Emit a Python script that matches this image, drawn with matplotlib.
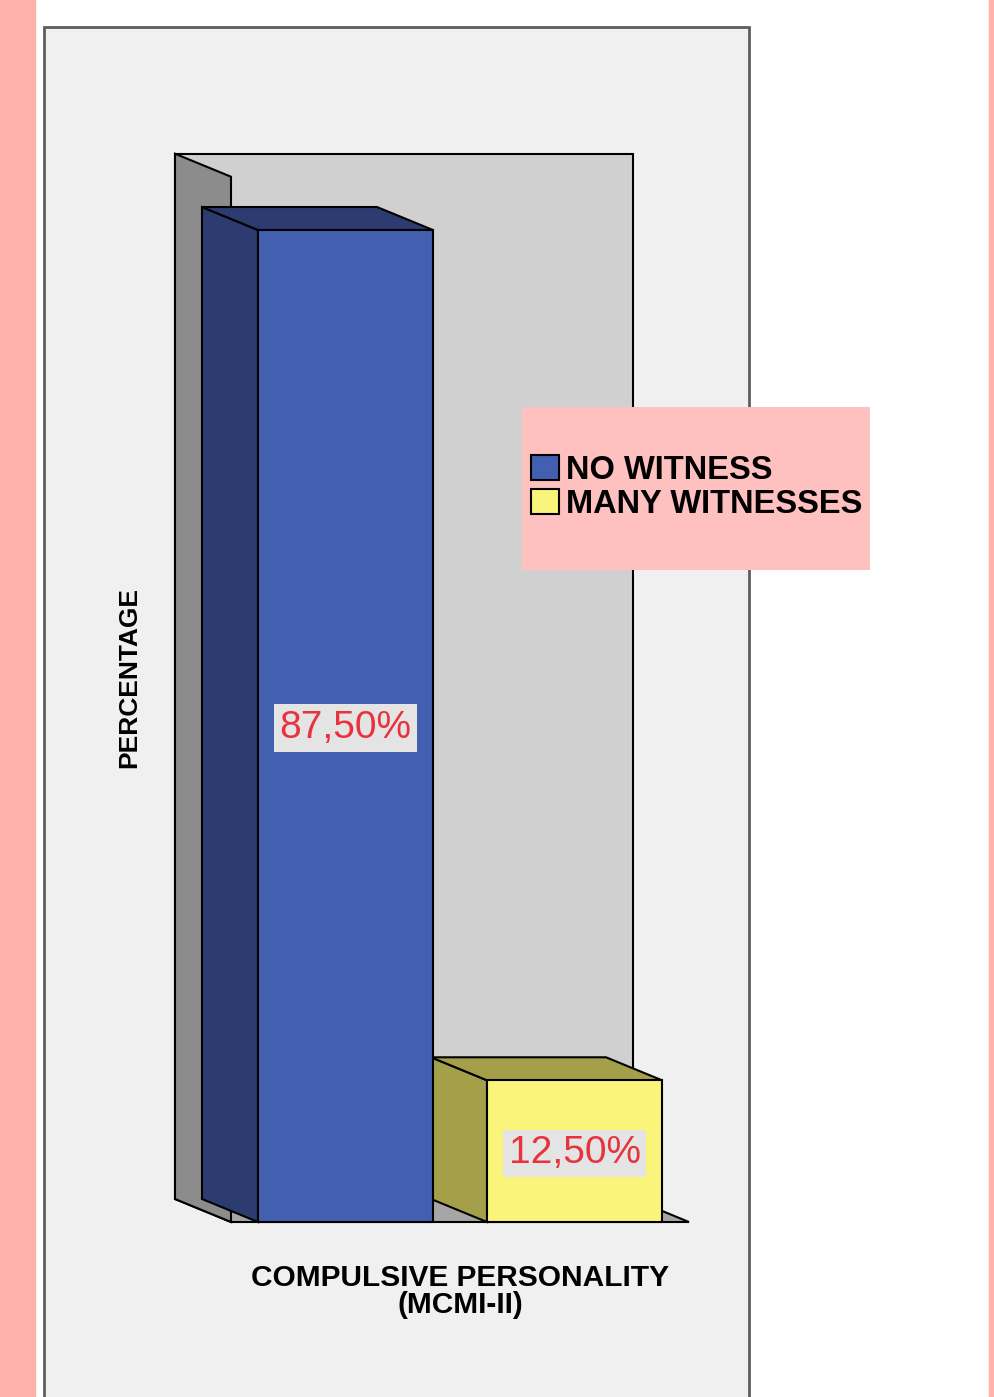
"""
3D-style bar chart: Compulsive personality (MCMI-II) by witness group
"""
import matplotlib
matplotlib.use('Agg')
import matplotlib.pyplot as plt
from matplotlib.patches import Rectangle, Polygon, Patch

W, H = 995, 1397

groups = ['NO WITNESS', 'MANY WITNESSES']
values = [87.5, 12.5]
x_title = 'COMPULSIVE PERSONALITY'
x_subtitle = '(MCMI-II)'
y_title = 'PERCENTAGE'

C = {
    'pink': '#FFB2AA', 'frame': '#F0F0F0', 'frame_edge': '#5E5E5E',
    'wall': '#D0D0D0', 'side_wall': '#8C8C8C', 'floor': '#A6A6A6',
    'legend_bg': '#FFC0C0', 'label': '#E8333C', 'label_bg': '#E4E4E4',
}
front_colors = ['#435FB0', '#FAF57A']
shade_colors = ['#2C3C70', '#A4A04A']

plt.rcParams['font.family'] = ['Liberation Sans', 'DejaVu Sans']

# geometry: 1 category unit = 229 px, 1 percent = 11.337 px
px_x, px_y = 229.0, 11.337
x_front0, y_floor = 345.5, 1222.0
bar_w = 175 / px_x
ddx, ddy = -56 / px_x, 23 / px_y
wall_h = 92.2


def fx(x):
    return x / W


def fy(y):
    return 1 - y / H


fig = plt.figure(figsize=(W / 100, H / 100), dpi=100)
fig.patch.set_facecolor('white')
ax = fig.add_axes([0, 0, 1, 1])
ax.set_xlim(-x_front0 / px_x, (W - x_front0) / px_x)
ax.set_ylim(-(H - y_floor) / px_y, y_floor / px_y)
ax.axis('off')

# page decoration
ax.add_patch(Rectangle((0, 0), fx(35), 1, transform=fig.transFigure, color=C['pink'], zorder=0))
ax.add_patch(Rectangle((fx(989), 0), 1, 1, transform=fig.transFigure, color=C['pink'], zorder=0))
ax.add_patch(Rectangle((fx(44), -0.01), fx(749) - fx(44), fy(27) + 0.01, transform=fig.transFigure,
                       facecolor=C['frame'], edgecolor=C['frame_edge'], lw=2, zorder=0.5))

# walls and floor
n = len(values)
xl, xr = -0.5, n - 0.5
ax.add_patch(Rectangle((xl + ddx, ddy), xr - xl, wall_h, facecolor=C['wall'], edgecolor='black', lw=1.5, zorder=1))
ax.add_patch(Polygon([(xl, 0), (xr, 0), (xr + ddx, ddy), (xl + ddx, ddy)],
                     facecolor=C['floor'], edgecolor='black', lw=1.5, zorder=1.1))
ax.add_patch(Polygon([(xl, 0), (xl, wall_h), (xl + ddx, wall_h + ddy), (xl + ddx, ddy)],
                     facecolor=C['side_wall'], edgecolor='black', lw=1.5, zorder=1.2))

# bars, drawn right to left so the front faces sit on top
for i in reversed(range(n)):
    v = values[i]
    x0, x1 = i - bar_w / 2, i + bar_w / 2
    z = 2 + (n - i)
    ax.add_patch(Polygon([(x0, 0), (x0, v), (x0 + ddx, v + ddy), (x0 + ddx, ddy)],
                         facecolor=shade_colors[i], edgecolor='black', lw=1.5, zorder=z))
    ax.add_patch(Polygon([(x0, v), (x1, v), (x1 + ddx, v + ddy), (x0 + ddx, v + ddy)],
                         facecolor=shade_colors[i], edgecolor='black', lw=1.5, zorder=z))
    ax.add_patch(Rectangle((x0, 0), bar_w, v, facecolor=front_colors[i], edgecolor='black', lw=1.5, zorder=z + 0.1))
    lbl = f'{v:.2f}'.replace('.', ',') + '%'
    ax.text(i, v / 2 - 0.2, lbl, ha='center', va='center', fontsize=28, color=C['label'], zorder=10,
            bbox=dict(boxstyle='square,pad=0.15', facecolor=C['label_bg'], edgecolor='none'))

# axis titles
fig.text(fx(129), fy(677), y_title, rotation=90, ha='center', va='center', fontsize=19, fontweight='bold')
fig.text(fx(460), fy(1278), x_title, ha='center', va='center', fontsize=21.5, fontweight='bold')
fig.text(fx(460), fy(1305), x_subtitle, ha='center', va='center', fontsize=21.5, fontweight='bold')

# legend on pink box
ax.add_patch(Rectangle((fx(522), fy(570)), fx(870) - fx(522), fy(407) - fy(570), transform=fig.transFigure,
                       facecolor=C['legend_bg'], edgecolor='none', zorder=11))
handles = [Patch(facecolor=front_colors[i], edgecolor='black', lw=1.5) for i in range(n)]
leg = ax.legend(handles, groups, loc='upper left', bbox_to_anchor=(fx(531), fy(455)),
                bbox_transform=fig.transFigure, frameon=False, borderpad=0, borderaxespad=0,
                handlelength=0.85, handleheight=0.8, handletextpad=0.22, labelspacing=0.1,
                prop={'weight': 'bold', 'size': 23.5})
leg.set_zorder(12)

fig.savefig('out.png', dpi=100, facecolor='white')
